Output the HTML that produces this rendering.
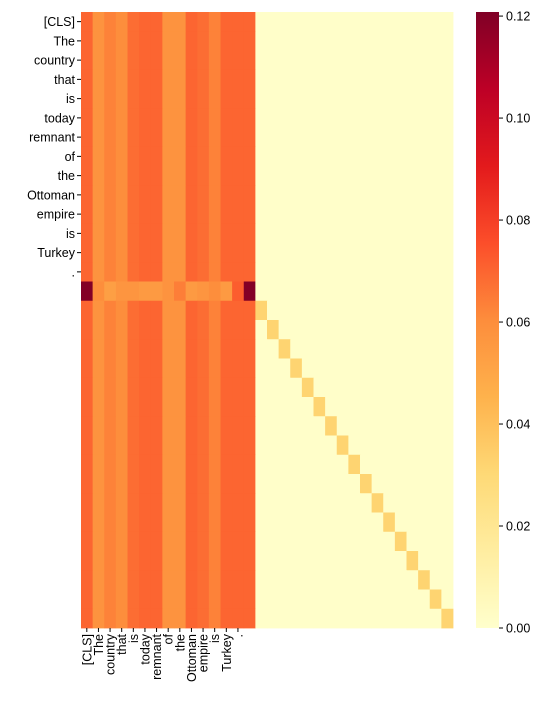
<!DOCTYPE html>
<html><head><meta charset="utf-8"><style>
body{margin:0;background:#fff;width:557px;height:709px;overflow:hidden;font-family:"Liberation Sans","DejaVu Sans",sans-serif}
</style></head><body>
<svg id="chart" width="557" height="709" xmlns="http://www.w3.org/2000/svg">
<g id="cells"></g>
<g id="ylab"></g>
<g id="xlab"></g>
<defs><linearGradient id="cbg" x1="0" y1="1" x2="0" y2="0"></linearGradient></defs>
<rect x="476" y="12" width="23" height="616" fill="url(#cbg)"/>
<g id="cbt"></g>
</svg>
<script>
const tokens=["[CLS]","The","country","that","is","today","remnant","of","the","Ottoman","empire","is","Turkey","."];
const colValues=[0.070,0.058,0.063,0.060,0.068,0.070,0.070,0.058,0.058,0.070,0.068,0.063,0.070,0.070,0.070];
const sepRow=[0.120,0.060,0.053,0.057,0.057,0.055,0.055,0.058,0.064,0.055,0.057,0.060,0.055,0.072,0.120];
const diagValue=0.032;
const restValue=0.001;
const cbTicks=[0,0.02,0.04,0.06,0.08,0.10,0.12];
const N=32, vmax=0.1208;
const X0=81,X1=453,Y0=12,Y1=628;
const cw=(X1-X0)/N, ch=(Y1-Y0)/N;
const xs=i=>X0+i*cw, ys=j=>Y0+j*ch;
const stops=["#ffffcc","#ffeda0","#fed976","#feb24c","#fd8d3c","#fc4e2a","#e31a1c","#bd0026","#800026"];
function hex(h){return [1,3,5].map(k=>parseInt(h.substr(k,2),16));}
function cmap(v){let t=Math.max(0,Math.min(1,v/vmax))*(stops.length-1);let i=Math.min(Math.floor(t),stops.length-2),f=t-i;
const a=hex(stops[i]),b=hex(stops[i+1]);return `rgb(${a.map((c,k)=>Math.round(c+(b[k]-c)*f)).join(",")})`;}
function val(r,c){
  if(r===14) return c<15?sepRow[c]:restValue;
  if(c<15) return colValues[c];
  if(r>14 && c===r) return diagValue;
  return restValue;
}
const NS="http://www.w3.org/2000/svg";
const cells=document.getElementById('cells');
for(let r=0;r<N;r++)for(let c=0;c<N;c++){
  const e=document.createElementNS(NS,'rect');
  e.setAttribute('x',xs(c));e.setAttribute('y',ys(r));
  e.setAttribute('width',cw+0.4);e.setAttribute('height',ch+0.4);
  e.setAttribute('fill',cmap(val(r,c)));
  
  
  cells.appendChild(e);
}
const yl=document.getElementById('ylab'),xl=document.getElementById('xlab');
tokens.forEach((t,i)=>{
  const ty=ys(i)+ch/2;
  const tk=document.createElementNS(NS,'line');
  tk.setAttribute('x1',X0-4);tk.setAttribute('x2',X0);tk.setAttribute('y1',ty);tk.setAttribute('y2',ty);tk.setAttribute('stroke','#000');
  
  
  yl.appendChild(tk);
  const e=document.createElementNS(NS,'text');
  e.setAttribute('x',X0-6);e.setAttribute('y',ty+4.5);e.setAttribute('text-anchor','end');e.setAttribute('font-size','12.5');
  e.textContent=t;
  
  
  yl.appendChild(e);
  const tx=xs(i)+cw/2;
  const tk2=document.createElementNS(NS,'line');
  tk2.setAttribute('x1',tx);tk2.setAttribute('x2',tx);tk2.setAttribute('y1',Y1);tk2.setAttribute('y2',Y1+4);tk2.setAttribute('stroke','#000');
  
  
  xl.appendChild(tk2);
  const e2=document.createElementNS(NS,'text');
  e2.setAttribute('transform',`translate(${tx+4.5},${Y1+6}) rotate(-90)`);e2.setAttribute('text-anchor','end');e2.setAttribute('font-size','12.5');
  e2.textContent=t;
  
  
  xl.appendChild(e2);
});
const g=document.getElementById('cbg');
stops.forEach((s,i)=>{const st=document.createElementNS(NS,'stop');st.setAttribute('offset',i/(stops.length-1));st.setAttribute('stop-color',s);g.appendChild(st);});
const cbt=document.getElementById('cbt');
cbTicks.forEach(v=>{
  const y=Y1-(v/vmax)*(Y1-Y0);
  const l=document.createElementNS(NS,'line');
  l.setAttribute('x1',499);l.setAttribute('x2',503);l.setAttribute('y1',y);l.setAttribute('y2',y);l.setAttribute('stroke','#000');
  
  
  cbt.appendChild(l);
  const t=document.createElementNS(NS,'text');
  t.setAttribute('x',506);t.setAttribute('y',y+4.5);t.setAttribute('font-size','12.5');
  t.textContent=v.toFixed(2);
  
  
  cbt.appendChild(t);
});
</script>
</body></html>
